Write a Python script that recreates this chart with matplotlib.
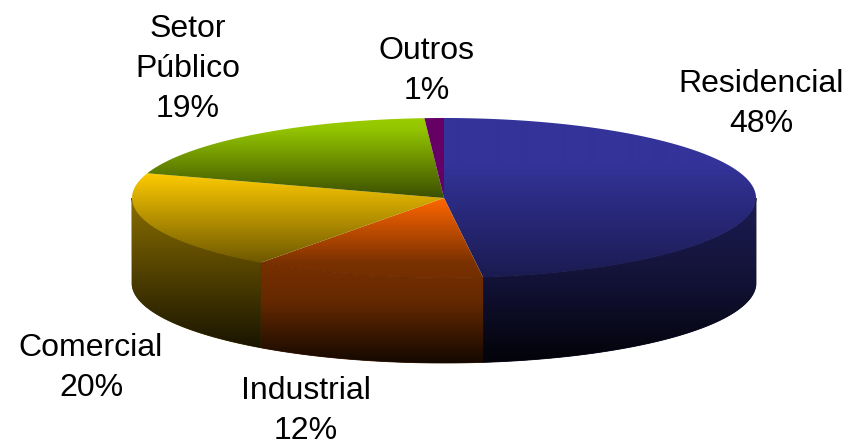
import numpy as np
import matplotlib
matplotlib.use("Agg")
import matplotlib.pyplot as plt
from matplotlib.patches import Polygon

# Consumption share by sector, clockwise from twelve o'clock
categories = ["Residencial", "Industrial", "Comercial", "Setor\nPúblico", "Outros"]
shares = [48, 12, 20, 19, 1]
base_colors = [(51, 51, 153), (255, 102, 0), (255, 204, 0), (153, 204, 0), (102, 0, 102)]

# Pie geometry in figure pixels
CX, CY, RX, RY, DEPTH = 444, 198, 312, 80, 85

# (label centre x, first baseline) for each slice label
label_anchor = {"Residencial": (761, 92), "Industrial": (306, 399), "Comercial": (91, 356),
                "Setor\nPúblico": (188, 37), "Outros": (427, 59)}
LINE_STEP = 40

# Brightness stops (y pixel, factor) for the vertical shading of each slice
top_shade = [
    [(118, 1.0), (165, 1.0), (278, 0.52)],
    [(198, 1.0), (262, 0.48), (285, 0.44)],
    [(172, 1.0), (264, 0.42)],
    [(118, 1.0), (128, 0.97), (198, 0.38)],
    [(118, 1.0), (198, 1.0)],
]
side_shade = [
    [(190, 0.56), (280, 0.36), (362, 0.05)],
    [(262, 0.47), (300, 0.40), (362, 0.08)],
    [(190, 0.56), (350, 0.09)],
    None,
    None,
]


def rim(theta):
    """Point on the top ellipse, theta in degrees clockwise from twelve o'clock."""
    t = np.radians(theta)
    return CX + RX * np.sin(t), CY - RY * np.cos(t)


def shaded(ax, color, stops, outline, underlay=False):
    """Paint a vertical gradient of the colour, clipped to the outline polygon."""
    ys = np.arange(100, 380)
    factor = np.interp(ys, [s[0] for s in stops], [s[1] for s in stops])
    rgb = np.outer(factor, np.array(color) / 255.0)[:, None, :]
    patch = Polygon(outline, closed=True, transform=ax.transData,
                    facecolor="none", edgecolor="none")
    ax.add_patch(patch)
    if underlay:
        # Dark backing keeps the seams between wall sections from showing white
        dark = tuple(np.array(color) / 255.0 * 0.25)
        ax.add_patch(Polygon(outline, closed=True, facecolor=dark, edgecolor=dark,
                             linewidth=0.6, zorder=1))
    im = ax.imshow(rgb, extent=(0, 845, ys[-1] + 1, ys[0]), aspect="auto",
                   interpolation="bilinear", zorder=2)
    im.set_clip_path(patch)


fig = plt.figure(figsize=(8.45, 4.42), dpi=100)
ax = fig.add_axes([0, 0, 1, 1])

edges = np.concatenate([[0], np.cumsum(shares) * 360.0 / np.sum(shares)])

# Outer wall: only the part of each slice facing the viewer
for i in range(len(shares)):
    a, b = max(edges[i], 90), min(edges[i + 1], 270)
    if b <= a or side_shade[i] is None:
        continue
    th = np.linspace(a, b, 120)
    x, y = rim(th)
    outline = np.r_[np.c_[x, y], np.c_[x[::-1], y[::-1] + DEPTH]]
    shaded(ax, base_colors[i], side_shade[i], outline, underlay=True)

# Top face
for i in range(len(shares)):
    th = np.linspace(edges[i], edges[i + 1], 200)
    x, y = rim(th)
    outline = np.r_[[[CX, CY]], np.c_[x, y]]
    shaded(ax, base_colors[i], top_shade[i], outline)

# Labels: name line(s) followed by the percentage
for name, share in zip(categories, shares):
    lx, ly = label_anchor[name]
    for k, line in enumerate(name.split("\n") + [f"{share}%"]):
        ax.text(lx, ly + k * LINE_STEP, line, ha="center", va="baseline",
                fontsize=23, color="black", family="Liberation Sans", zorder=3)

ax.set_xlim(0, 845)
ax.set_ylim(442, 0)
ax.axis("off")
fig.savefig("out.png", dpi=100, facecolor="white")
